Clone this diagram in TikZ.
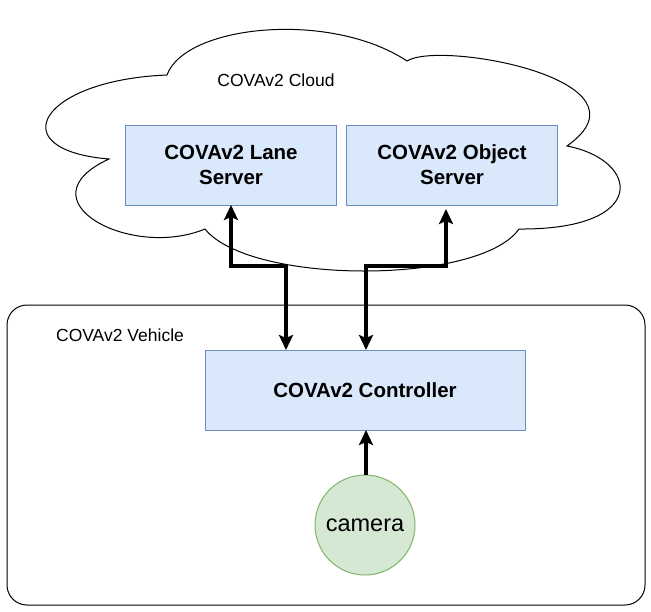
\documentclass[tikz,border=0pt]{standalone}
\usepackage{fontspec}
\setmainfont{Liberation Sans}
\usepackage{xcolor}
\usepackage{tikz}
\usetikzlibrary{positioning, arrows.meta, calc}

\definecolor{srvfill}{HTML}{DAE8FC}
\definecolor{srvline}{HTML}{6C8EBF}
\definecolor{camfill}{HTML}{D5E8D4}
\definecolor{camline}{HTML}{82B366}

\begin{document}
\begin{tikzpicture}[
    x=1pt, y=-1pt,
    server/.style={rectangle, draw=srvline, fill=srvfill, line width=1pt, minimum height=80pt, minimum width=211pt, inner sep=0pt, outer sep=0pt, align=center, font=\fontsize{20.5}{25}\selectfont\bfseries},
    cam/.style={circle, draw=camline, fill=camfill, line width=1pt, minimum size=100pt, inner sep=0pt, outer sep=0pt, font=\fontsize{23.5}{28}\selectfont},
    lbl/.style={font=\fontsize{17.5}{21}\selectfont, inner sep=0pt},
    arr/.style={-{Stealth[length=15pt, width=14pt, inset=3pt]}, line width=3.2pt},
    darr/.style={{Stealth[length=15pt, width=14pt, inset=3pt]}-{Stealth[length=15pt, width=14pt, inset=3pt]}, line width=3.2pt},
]
\useasboundingbox (0,0) rectangle (651,611);

\draw[line width=1pt, fill=white]
  (109,159) .. controls (0,150) and (40,80) .. (167,75)
  .. controls (185,25) and (330,10) .. (407,61)
  .. controls (440,40) and (660,80) .. (567,146)
  .. controls (640,160) and (650,230) .. (519,229)
  .. controls (480,285) and (250,285) .. (205,229)
  .. controls (130,260) and (20,200) .. (109,159) -- cycle;
\node[lbl] (cloudlbl) at (276,80) {COVAv2 Cloud};

\node[draw, line width=1pt, rounded corners=20pt, minimum width=638pt, minimum height=300pt, inner sep=0pt] (vehicle) at (326,455) {};
\node[lbl] (vehlbl) at (120,335) {COVAv2 Vehicle};

\node[server] (lane) at (231,165) {COVAv2 Lane\\Server};
\node[server] (object) at (452,165) {COVAv2 Object\\Server};
\node[server, minimum width=320pt] (ctrl) at (365,390) {COVAv2 Controller};
\node[cam] (camera) at (365,525) {camera};

\draw[darr] (lane.south) -- ++(0,61) -| ([xshift=-79pt]ctrl.north);
\draw[darr] ([xshift=-6pt, yshift=-4pt]object.south) -- ++(0,57) -| ([xshift=1pt]ctrl.north);
\draw[arr] ([xshift=1pt]camera.north) -- ([xshift=1pt]ctrl.south);

\end{tikzpicture}
\end{document}
